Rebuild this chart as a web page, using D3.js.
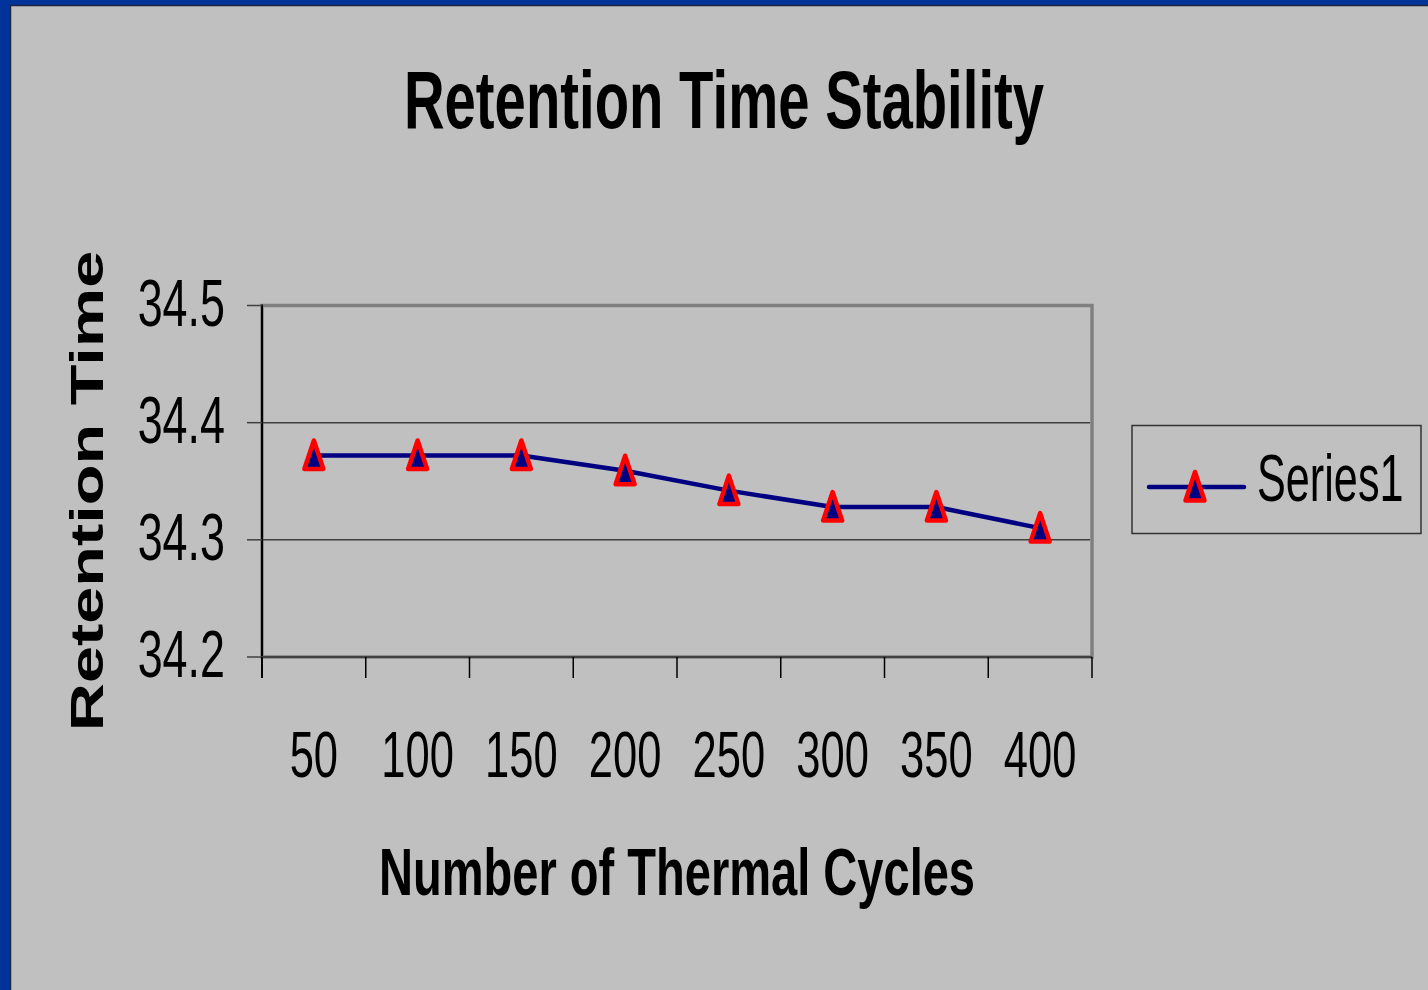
<!DOCTYPE html>
<html>
<head>
<meta charset="utf-8">
<script src="https://cdn.jsdelivr.net/npm/d3@7"></script>
<style>
  html, body { margin: 0; padding: 0; background: #003399; }
  svg { display: block; font-family: "Liberation Sans", Arial, sans-serif; }
</style>
</head>
<body>
<script>
// chart values
const cycles = ['50', '100', '150', '200', '250', '300', '350', '400'];
const retention = [34.372, 34.372, 34.372, 34.359, 34.342, 34.328, 34.328, 34.31];
const yTicks = [34.2, 34.3, 34.4, 34.5];
const seriesName = 'Series1';

drawChart();

/*
 * Draws the retention time line chart in the old spreadsheet look.
 */
function drawChart()
{
    const svgWidth = 1428;
    const svgHeight = 990;

    const svg = d3.select('body')
        .append('svg')
        .attr('width', svgWidth)
        .attr('height', svgHeight);

    // blue slide frame with the grey chart area
    svg.append('rect')
        .attr('width', svgWidth)
        .attr('height', svgHeight)
        .attr('fill', '#003399');

    svg.append('rect')
        .attr('x', 10.5)
        .attr('y', 5.5)
        .attr('width', svgWidth)
        .attr('height', svgHeight)
        .attr('fill', '#c0c0c0')
        .attr('stroke', '#1c2440')
        .attr('stroke-width', 1.5);

    const plot = {left: 262, top: 305.5, right: 1092, bottom: 657};

    const x = d3.scaleBand()
        .domain(cycles)
        .range([plot.left, plot.right]);

    const y = d3.scaleLinear()
        .domain([34.2, 34.5])
        .range([plot.bottom, plot.top]);

    // plot area border
    svg.append('rect')
        .attr('x', plot.left)
        .attr('y', plot.top)
        .attr('width', plot.right - plot.left)
        .attr('height', plot.bottom - plot.top)
        .attr('fill', 'none')
        .attr('stroke', '#808080')
        .attr('stroke-width', 3.5);

    // gridlines
    svg.append('g')
        .selectAll('line')
        .data(yTicks.filter(d => d > 34.2 && d < 34.5))
        .enter()
        .append('line')
        .attr('x1', plot.left)
        .attr('x2', plot.right - 2)
        .attr('y1', d => y(d))
        .attr('y2', d => y(d))
        .attr('stroke', '#404040')
        .attr('stroke-width', 1.5);

    // y axis
    svg.append('line')
        .attr('x1', plot.left)
        .attr('x2', plot.left)
        .attr('y1', plot.top - 1)
        .attr('y2', plot.bottom + 21)
        .attr('stroke', '#000')
        .attr('stroke-width', 2);

    const yTickG = svg.append('g')
        .selectAll('g')
        .data(yTicks)
        .enter()
        .append('g')
        .attr('transform', d => `translate(${plot.left},${y(d)})`);

    yTickG.append('line')
        .attr('x1', -15)
        .attr('x2', 0)
        .attr('stroke', '#404040')
        .attr('stroke-width', 1.5);

    yTickG.append('text')
        .attr('transform', 'translate(-37,20) scale(0.68,1)')
        .attr('text-anchor', 'end')
        .attr('font-size', 66)
        .text(d3.format('.1f'));

    // x axis, ticks sit on the band edges
    const edges = cycles.map(d => x(d)).concat([plot.right]);

    svg.append('line')
        .attr('x1', plot.left)
        .attr('x2', plot.right)
        .attr('y1', plot.bottom)
        .attr('y2', plot.bottom)
        .attr('stroke', '#404040')
        .attr('stroke-width', 2);

    svg.append('g')
        .selectAll('line')
        .data(edges)
        .enter()
        .append('line')
        .attr('x1', d => d)
        .attr('x2', d => d)
        .attr('y1', plot.bottom)
        .attr('y2', plot.bottom + 21)
        .attr('stroke', '#000')
        .attr('stroke-width', 1.5);

    svg.append('g')
        .selectAll('text')
        .data(cycles)
        .enter()
        .append('text')
        .attr('transform', d => `translate(${x(d) + x.bandwidth() / 2},777) scale(0.68,1)`)
        .attr('text-anchor', 'middle')
        .attr('font-size', 64)
        .text(d => d);

    // series line and markers
    const points = cycles.map((c, i) => [x(c) + x.bandwidth() / 2, y(retention[i])]);

    svg.append('path')
        .attr('d', d3.line()(points))
        .attr('fill', 'none')
        .attr('stroke', '#000080')
        .attr('stroke-width', 4.5)
        .attr('stroke-linejoin', 'round');

    svg.append('g')
        .selectAll('path')
        .data(points)
        .enter()
        .append('path')
        .attr('d', triangle)
        .attr('transform', d => `translate(${d[0]},${d[1]})`)
        .attr('fill', '#000080')
        .attr('stroke', '#ff0000')
        .attr('stroke-width', 4.5)
        .attr('stroke-linejoin', 'round');

    // titles, squeezed horizontally like the narrow original font
    svg.append('text')
        .attr('transform', 'translate(724,128) scale(0.695,1)')
        .attr('text-anchor', 'middle')
        .attr('font-size', 81)
        .attr('font-weight', 'bold')
        .text('Retention Time Stability');

    svg.append('text')
        .attr('transform', 'translate(677,895) scale(0.713,1)')
        .attr('text-anchor', 'middle')
        .attr('font-size', 66)
        .attr('font-weight', 'bold')
        .text('Number of Thermal Cycles');

    svg.append('text')
        .attr('transform', 'translate(103,491) rotate(-90) scale(1.45,1)')
        .attr('text-anchor', 'middle')
        .attr('font-size', 46)
        .attr('font-weight', 'bold')
        .text('Retention Time');

    // legend
    const legend = svg.append('g');

    legend.append('rect')
        .attr('x', 1132)
        .attr('y', 425.5)
        .attr('width', 289)
        .attr('height', 108)
        .attr('fill', 'none')
        .attr('stroke', '#333')
        .attr('stroke-width', 1.5);

    legend.append('line')
        .attr('x1', 1149)
        .attr('x2', 1244)
        .attr('y1', 487)
        .attr('y2', 487)
        .attr('stroke', '#000080')
        .attr('stroke-width', 4.5)
        .attr('stroke-linecap', 'round');

    legend.append('path')
        .attr('d', triangle)
        .attr('transform', 'translate(1195,487)')
        .attr('fill', '#000080')
        .attr('stroke', '#ff0000')
        .attr('stroke-width', 4.5)
        .attr('stroke-linejoin', 'round');

    legend.append('text')
        .attr('transform', 'translate(1257,501) scale(0.655,1)')
        .attr('font-size', 66)
        .text(seriesName);

    function triangle()
    {
        return 'M0,-15L9.5,13.5L-9.5,13.5Z';
    }
}
</script>
</body>
</html>
